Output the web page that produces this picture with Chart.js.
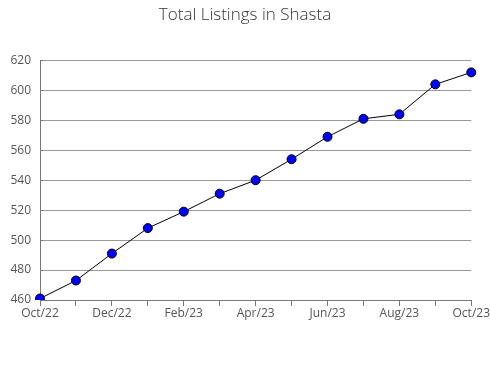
<!DOCTYPE html>
<html>
<head>
<meta charset="utf-8">
<script src="https://cdn.jsdelivr.net/npm/chart.js@4/dist/chart.umd.min.js"></script>
<style>
  html, body { margin: 0; padding: 0; background: #fff; }
  #wrap { width: 490px; height: 380px; }
</style>
</head>
<body>
<div id="wrap"><canvas id="listingsChart" width="490" height="380"></canvas></div>
<script>
const months = ['Oct/22', 'Nov/22', 'Dec/22', 'Jan/23', 'Feb/23', 'Mar/23', 'Apr/23',
                'May/23', 'Jun/23', 'Jul/23', 'Aug/23', 'Sep/23', 'Oct/23'];
const listings = [461, 473, 491, 508, 519, 531, 540, 554, 569, 581, 584, 604, 612];
const yMin = 460;
const yMax = 620;
const yStep = 10;

document.addEventListener("DOMContentLoaded", () => {
    const ctx = document.getElementById('listingsChart');
    new Chart(ctx.getContext('2d'), {
        type: 'line',
        data: {
            labels: months,
            datasets: [{
                label: 'Total Listings',
                data: listings,
                borderColor: '#000',
                borderWidth: 1,
                pointBackgroundColor: '#0000ff',
                pointBorderColor: '#000',
                pointBorderWidth: 1,
                pointRadius: 4.5,
                tension: 0,
                fill: false
            }]
        },
        options: {
            responsive: false,
            animation: false,
            // right edge comes from the last x label overflow
            layout: { padding: 0 },
            scales: {
                x: {
                    offset: false,
                    grid: { drawOnChartArea: false, drawTicks: true, tickLength: 6, tickColor: '#777' },
                    border: { color: '#777' },
                    ticks: {
                        autoSkip: false, maxRotation: 0, padding: 0,
                        color: '#555', font: { family: 'Open Sans', size: 12 },
                        callback: (v, i) => i % 2 === 0 ? months[i] : ''
                    },
                    afterFit: s => { s.height = 80; }
                },
                y: {
                    min: yMin, max: yMax,
                    grid: {
                        color: c => (c.tick && c.tick.value % 20 === 0) ? '#999' : 'rgba(0,0,0,0)',
                        tickLength: -3, tickColor: '#777'
                    },
                    border: { color: '#777' },
                    ticks: {
                        stepSize: yStep, padding: 12,
                        color: '#555', font: { family: 'Open Sans', size: 12 },
                        callback: v => v % 20 === 0 ? v : ''
                    },
                    afterFit: s => { s.width = 40; }
                }
            },
            plugins: {
                legend: { display: false },
                tooltip: { enabled: false },
                title: {
                    display: true,
                    text: 'Total Listings in Shasta',
                    color: '#333',
                    font: { family: 'Open Sans', size: 17, weight: '300' },
                    padding: { top: 5, bottom: 35 }
                }
            }
        }
    });
});
</script>
</body>
</html>
